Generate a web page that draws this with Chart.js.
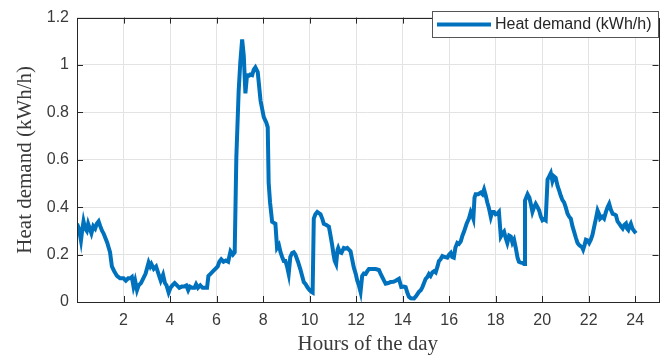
<!DOCTYPE html>
<html>
<head>
<meta charset="utf-8">
<script src="https://cdn.jsdelivr.net/npm/chart.js@4"></script>
<style>
  body { margin: 0; background: #fff; }
  #wrap { width: 664px; height: 359px; }
</style>
</head>
<body>
<div id="wrap"><canvas id="chart" width="664" height="359"></canvas></div>
<script>
// hours of the day (x) and heat demand in kWh/h (y)
const hours = [
  0.00, 0.08, 0.17, 0.22, 0.28, 0.35, 0.42, 0.48, 0.55, 0.62, 0.70, 0.78, 0.85, 0.93, 1.00,
  1.08, 1.14, 1.22, 1.30, 1.36, 1.42, 1.50, 1.60, 1.72, 1.85, 2.00, 2.10, 2.20, 2.30, 2.36,
  2.43, 2.50, 2.58, 2.65, 2.75, 2.85, 2.95, 3.08, 3.15, 3.20, 3.30, 3.40, 3.50, 3.60, 3.70,
  3.78, 3.85, 3.94, 4.02, 4.10, 4.20, 4.30, 4.40, 4.50, 4.60, 4.70, 4.78, 4.85, 4.95, 5.05,
  5.12, 5.20, 5.30, 5.40, 5.50, 5.59, 5.65, 5.75, 5.85, 5.95, 6.05, 6.12, 6.20, 6.30, 6.40,
  6.50, 6.60, 6.70, 6.78, 6.85, 6.95, 7.02, 7.10, 7.17, 7.24, 7.31, 7.40, 7.45, 7.53, 7.60,
  7.67, 7.77, 7.89, 7.95, 8.03, 8.14, 8.20, 8.24, 8.30, 8.39, 8.53, 8.60, 8.68, 8.75, 8.82,
  8.89, 8.96, 9.03, 9.10, 9.17, 9.25, 9.32, 9.39, 9.50, 9.60, 9.68, 9.75, 9.83, 9.90, 10.00,
  10.08, 10.13, 10.18, 10.25, 10.33, 10.47, 10.55, 10.61, 10.72, 10.83, 10.90, 10.97, 11.03, 11.08, 11.14,
  11.20, 11.23, 11.30, 11.37, 11.47, 11.55, 11.62, 11.70, 11.76, 11.83, 11.90, 11.98, 12.05, 12.12, 12.19,
  12.26, 12.33, 12.41, 12.48, 12.55, 12.70, 12.84, 12.98, 13.05, 13.13, 13.20, 13.27, 13.38, 13.48, 13.60,
  13.70, 13.84, 13.94, 14.05, 14.13, 14.20, 14.27, 14.35, 14.49, 14.58, 14.70, 14.78, 14.85, 14.92, 14.99,
  15.06, 15.13, 15.20, 15.28, 15.35, 15.42, 15.50, 15.56, 15.63, 15.71, 15.80, 15.92, 16.00, 16.07, 16.13,
  16.20, 16.27, 16.35, 16.42, 16.50, 16.57, 16.64, 16.75, 16.85, 16.93, 16.98, 17.04, 17.09, 17.14, 17.25,
  17.36, 17.43, 17.50, 17.57, 17.64, 17.70, 17.79, 17.85, 17.93, 18.00, 18.07, 18.14, 18.22, 18.30, 18.36,
  18.43, 18.50, 18.58, 18.65, 18.72, 18.79, 18.86, 18.94, 19.00, 19.08, 19.15, 19.22, 19.26, 19.37, 19.45,
  19.51, 19.58, 19.65, 19.72, 19.80, 19.87, 19.94, 20.01, 20.08, 20.15, 20.23, 20.30, 20.37, 20.44, 20.51,
  20.58, 20.66, 20.73, 20.80, 20.87, 20.94, 21.01, 21.09, 21.16, 21.23, 21.30, 21.37, 21.45, 21.52, 21.59,
  21.66, 21.72, 21.76, 21.82, 21.88, 21.95, 22.02, 22.09, 22.16, 22.24, 22.31, 22.38, 22.45, 22.49, 22.58,
  22.66, 22.74, 22.81, 22.88, 22.95, 23.03, 23.10, 23.17, 23.24, 23.31, 23.38, 23.46, 23.53, 23.60, 23.65,
  23.70, 23.75, 23.81, 23.88, 23.95, 24.03
];
const demand = [
  0.33, 0.31, 0.26, 0.30, 0.34, 0.31, 0.30, 0.33, 0.31, 0.29, 0.32, 0.31, 0.33, 0.34, 0.32,
  0.30, 0.29, 0.27, 0.25, 0.23, 0.21, 0.15, 0.13, 0.11, 0.10, 0.10, 0.09, 0.10, 0.10, 0.105,
  0.065, 0.09, 0.05, 0.07, 0.08, 0.10, 0.12, 0.167, 0.15, 0.16, 0.14, 0.15, 0.12, 0.09, 0.115,
  0.08, 0.07, 0.04, 0.06, 0.07, 0.08, 0.07, 0.06, 0.065, 0.065, 0.07, 0.05, 0.065, 0.06, 0.06,
  0.075, 0.06, 0.07, 0.06, 0.06, 0.06, 0.11, 0.12, 0.13, 0.14, 0.15, 0.17, 0.18, 0.17, 0.175,
  0.17, 0.214, 0.20, 0.21, 0.61, 0.89, 1.01, 1.108, 1.04, 0.88, 0.957, 0.955, 0.96, 0.957, 0.98,
  0.99, 0.97, 0.85, 0.82, 0.78, 0.757, 0.737, 0.503, 0.42, 0.338, 0.33, 0.228, 0.24, 0.21, 0.19,
  0.173, 0.173, 0.15, 0.118, 0.19, 0.207, 0.21, 0.20, 0.17, 0.139, 0.11, 0.084, 0.075, 0.063, 0.05,
  0.043, 0.04, 0.352, 0.37, 0.38, 0.37, 0.35, 0.33, 0.325, 0.318, 0.28, 0.24, 0.20, 0.173, 0.16,
  0.22, 0.228, 0.21, 0.207, 0.228, 0.225, 0.228, 0.22, 0.214, 0.18, 0.146, 0.12, 0.09, 0.07, 0.043,
  0.11, 0.12, 0.118, 0.13, 0.139, 0.139, 0.139, 0.135, 0.12, 0.104, 0.09, 0.077, 0.08, 0.084, 0.085,
  0.09, 0.098, 0.063, 0.065, 0.063, 0.04, 0.022, 0.016, 0.015, 0.025, 0.043, 0.05, 0.063, 0.08, 0.098,
  0.105, 0.118, 0.11, 0.125, 0.13, 0.125, 0.15, 0.173, 0.18, 0.194, 0.19, 0.187, 0.20, 0.207, 0.19,
  0.187, 0.23, 0.249, 0.245, 0.256, 0.28, 0.297, 0.33, 0.352, 0.38, 0.37, 0.352, 0.44, 0.455, 0.455,
  0.462, 0.455, 0.475, 0.45, 0.42, 0.40, 0.359, 0.38, 0.38, 0.37, 0.372, 0.38, 0.276, 0.29, 0.297,
  0.27, 0.249, 0.28, 0.276, 0.25, 0.263, 0.23, 0.187, 0.17, 0.166, 0.165, 0.16, 0.428, 0.455, 0.44,
  0.414, 0.38, 0.40, 0.414, 0.40, 0.386, 0.36, 0.345, 0.35, 0.345, 0.517, 0.53, 0.544, 0.51, 0.53,
  0.524, 0.49, 0.47, 0.448, 0.43, 0.42, 0.40, 0.372, 0.36, 0.352, 0.32, 0.297, 0.27, 0.249, 0.24,
  0.235, 0.23, 0.221, 0.24, 0.263, 0.26, 0.249, 0.263, 0.283, 0.32, 0.352, 0.386, 0.37, 0.352, 0.36,
  0.352, 0.38, 0.40, 0.414, 0.39, 0.372, 0.37, 0.366, 0.34, 0.331, 0.32, 0.31, 0.325, 0.331, 0.31,
  0.304, 0.32, 0.331, 0.31, 0.30, 0.29
];
const xTicks = [2, 4, 6, 8, 10, 12, 14, 16, 18, 20, 22, 24];
const yTicks = [0, 0.2, 0.4, 0.6, 0.8, 1, 1.2];
const yTickLabels = ["0", "0.2", "0.4", "0.6", "0.8", "1", "1.2"];
const seriesLabel = "Heat demand (kWh/h)";

const AXIS = "#262626";
const BLUE = "#0072BD";

// MATLAB-style box: full frame, inward ticks, legend in the top right corner
const matlabBox = {
  id: "matlabBox",
  afterDatasetsDraw(chart) {
    const { ctx, chartArea: a, scales } = chart;
    ctx.save();
    ctx.strokeStyle = AXIS;
    ctx.lineWidth = 1;
    ctx.beginPath();
    xTicks.forEach(v => {
      const px = Math.round(scales.x.getPixelForValue(v)) + 0.5;
      ctx.moveTo(px, a.bottom); ctx.lineTo(px, a.bottom - 6);
      ctx.moveTo(px, a.top); ctx.lineTo(px, a.top + 6);
    });
    yTicks.forEach(v => {
      const py = Math.round(scales.y.getPixelForValue(v)) + 0.5;
      ctx.moveTo(a.left, py); ctx.lineTo(a.left + 6, py);
      ctx.moveTo(a.right, py); ctx.lineTo(a.right - 6, py);
    });
    ctx.stroke();
    ctx.strokeRect(Math.round(a.left) + 0.5, Math.round(a.top) + 0.5,
      Math.round(a.right - a.left), Math.round(a.bottom - a.top));

    // legend
    const lx = 432.5, ly = 11.5, lw = 226, lh = 26;
    ctx.fillStyle = "#fff";
    ctx.fillRect(lx, ly, lw, lh);
    ctx.strokeStyle = "#555";
    ctx.strokeRect(lx, ly, lw, lh);
    ctx.strokeStyle = BLUE;
    ctx.lineWidth = 4;
    ctx.beginPath();
    ctx.moveTo(437, ly + 13); ctx.lineTo(491, ly + 13);
    ctx.stroke();
    ctx.fillStyle = AXIS;
    ctx.font = "16px 'Liberation Sans', Arial, sans-serif";
    ctx.textBaseline = "middle";
    ctx.fillText(chart.data.datasets[0].label, 495, ly + 13.5);
    ctx.restore();
  }
};

new Chart(document.getElementById("chart").getContext("2d"), {
  type: "line",
  data: {
    datasets: [{
      label: seriesLabel,
      data: hours.map((h, i) => ({ x: h, y: demand[i] })),
      borderColor: BLUE,
      borderWidth: 4,
      pointRadius: 0,
      tension: 0,
      fill: false,
    }],
  },
  options: {
    responsive: false,
    animation: false,
    layout: { padding: { left: 0, right: 5.5, top: 11, bottom: 0 } },
    plugins: { legend: { display: false }, tooltip: { enabled: false } },
    scales: {
      x: {
        type: "linear",
        min: 0,
        max: 25,
        afterBuildTicks: s => { s.ticks = xTicks.map(v => ({ value: v })); },
        afterFit: s => { s.height = 57; },
        grid: { color: "#e3e3e3", drawTicks: false },
        border: { display: false },
        ticks: {
          padding: 9,
          color: "#3a3a3a",
          font: { family: "'Liberation Sans', Arial, sans-serif", size: 16 },
          callback: v => String(v),
        },
        title: {
          display: true,
          text: "Hours of the day",
          color: "#3a3a3a",
          font: { family: "'Liberation Serif', 'Times New Roman', serif", size: 21 },
          padding: { top: 0, bottom: 2 },
        },
      },
      y: {
        min: 0,
        max: 1.2,
        afterBuildTicks: s => { s.ticks = yTicks.map(v => ({ value: v })); },
        afterFit: s => { s.width = 77; },
        grid: { color: "#e3e3e3", drawTicks: false },
        border: { display: false },
        ticks: {
          padding: 8,
          color: "#3a3a3a",
          font: { family: "'Liberation Sans', Arial, sans-serif", size: 16 },
          callback: (v, i) => yTickLabels[i],
        },
        title: {
          display: true,
          text: "Heat demand (kWh/h)",
          color: "#3a3a3a",
          font: { family: "'Liberation Serif', 'Times New Roman', serif", size: 21 },
          padding: { top: 13, bottom: 0 },
        },
      },
    },
  },
  plugins: [matlabBox],
});
</script>
</body>
</html>
